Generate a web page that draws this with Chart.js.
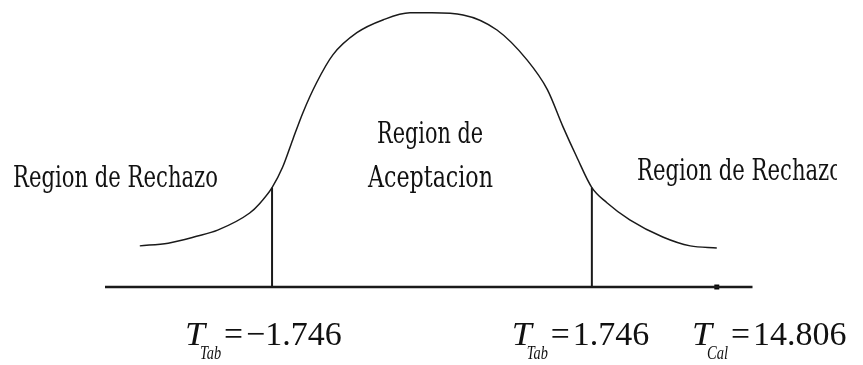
<!DOCTYPE html>
<html>
<head>
<meta charset="utf-8">
<script src="https://cdn.jsdelivr.net/npm/chart.js@4"></script>
<style>
  html, body { margin: 0; padding: 0; background: #fff; }
  #chart { display: block; }
</style>
</head>
<body>
<canvas id="chart" width="863" height="365"></canvas>
<script>
// t-distribution sketch: x in t units, y in density units
const curveT = [-3.19, -2.88, -2.57, -2.34, -1.99, -1.88, -1.746, -1.63, -1.52, -1.41, -1.26, -1.08, -0.82, -0.53, -0.24, 0.0,
                0.34, 0.71, 1.04, 1.26, 1.43, 1.58, 1.746, 1.91, 2.16, 2.52, 2.82, 3.11];
const curveY = [0.060, 0.064, 0.074, 0.083, 0.108, 0.122, 0.145, 0.175, 0.215, 0.254, 0.298, 0.339, 0.371, 0.390, 0.400, 0.400,
                0.397, 0.375, 0.331, 0.288, 0.234, 0.190, 0.145, 0.123, 0.098, 0.073, 0.060, 0.057];

const critT = [-1.746, 1.746];      // tabulated critical values
const tCal = 14.806;                // calculated statistic
const calMarkT = [3.11];            // where the dot sits on the axis
const axisT = [-3.57, 3.5];         // ends of the horizontal axis

const regionLabels = ['Region de Rechazo', 'Region de', 'Aceptacion', 'Region de Rechazo'];

function curveAt(t) {
  const i = curveT.indexOf(t);
  return i >= 0 ? curveY[i] : 0;
}

function fmt(v) {
  return (v < 0 ? '\u2212' : '') + Math.abs(v).toFixed(3);
}

const ink = '#1a1a1a';

const datasets = [
  {
    data: curveT.map((t, i) => ({ x: t, y: curveY[i] })),
    borderColor: ink, borderWidth: 1.5, cubicInterpolationMode: 'monotone', pointRadius: 0
  },
  {
    data: axisT.map(t => ({ x: t, y: 0 })),
    borderColor: ink, borderWidth: 2.5, pointRadius: 0
  },
  {
    data: calMarkT.map(t => ({ x: t, y: 0 })),
    showLine: false, pointStyle: 'rect', pointRadius: 3.5,
    backgroundColor: '#000', borderColor: '#000', borderWidth: 0
  }
];
critT.forEach(t => {
  datasets.push({
    data: [{ x: t, y: 0 }, { x: t, y: curveAt(t) }],
    borderColor: ink, borderWidth: 2, pointRadius: 0
  });
});

// draws a string squeezed horizontally to a given width
function drawFit(ctx, text, x, y, font, width) {
  ctx.save();
  ctx.font = font;
  const w = ctx.measureText(text).width;
  ctx.translate(x, y);
  ctx.scale(width ? width / w : 1, 1);
  ctx.fillText(text, 0, 0);
  ctx.restore();
}

function drawStat(ctx, sub, value, x, y) {
  drawFit(ctx, 'T', x, y, 'italic 34px "Liberation Serif"', 20);
  drawFit(ctx, sub, x + 15, y + 14, 'italic 19px "Liberation Serif"', 21);
  drawFit(ctx, '=', x + 39, y, '34px "Liberation Serif"', 19);
  drawFit(ctx, value, x + 61, y, '34px "Liberation Serif"', null);
}

const textPlugin = {
  id: 'labels',
  afterDraw(chart) {
    const ctx = chart.ctx;
    ctx.save();
    ctx.fillStyle = '#111';
    ctx.textBaseline = 'alphabetic';
    const serif = '30px "DejaVu Serif"';
    drawFit(ctx, regionLabels[0], 13, 187, serif, 205);
    drawFit(ctx, regionLabels[1], 377, 143, serif, 106);
    drawFit(ctx, regionLabels[2], 368, 187, serif, 125);
    ctx.save();
    ctx.beginPath();
    ctx.rect(600, 130, 237, 80);
    ctx.clip();
    drawFit(ctx, regionLabels[3], 637, 180, serif, 205);
    ctx.restore();

    const xs = chart.scales.x;
    drawStat(ctx, 'Tab', fmt(critT[0]), xs.getPixelForValue(critT[0]) - 87, 345);
    drawStat(ctx, 'Tab', fmt(critT[1]), xs.getPixelForValue(critT[1]) - 80, 345);
    drawStat(ctx, 'Cal', tCal.toFixed(3), 692, 345);
    ctx.restore();
  }
};

new Chart(document.getElementById('chart'), {
  type: 'line',
  data: { datasets: datasets },
  options: {
    responsive: false,
    animation: false,
    layout: { padding: { left: 105, right: 110.5, top: 6, bottom: 78 } },
    plugins: { legend: { display: false }, tooltip: { enabled: false } },
    scales: {
      x: { type: 'linear', min: axisT[0], max: axisT[1], display: false },
      y: { min: 0, max: 0.41, display: false }
    },
    datasets: { line: { clip: false } }
  },
  plugins: [textPlugin]
});
</script>
</body>
</html>
